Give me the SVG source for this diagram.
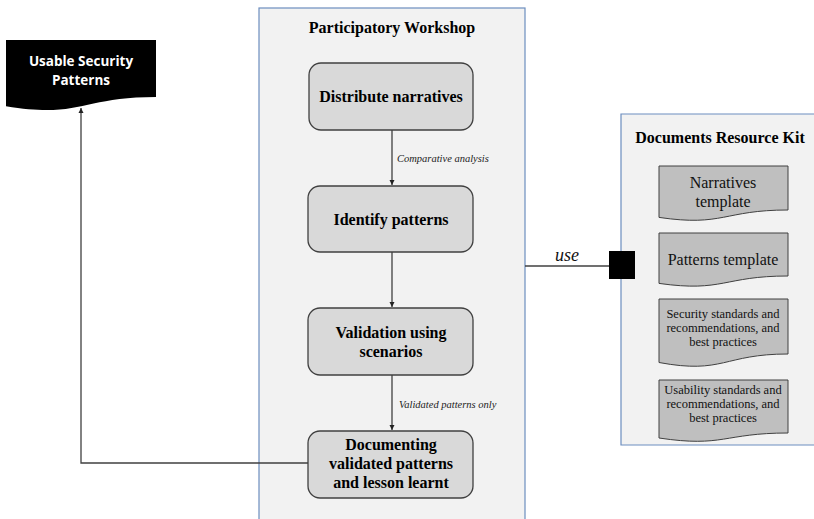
<svg xmlns="http://www.w3.org/2000/svg" width="814" height="519" viewBox="0 0 814 519">
<defs>
<style>
.container{fill:#f2f2f2;stroke:#6c8ebf;stroke-width:1.2}
.node{fill:#d9d9d9;stroke:#404040;stroke-width:1.3}
.doc{fill:#bfbfbf;stroke:#404040;stroke-width:1}
.title{font-family:"Liberation Serif",serif;font-weight:bold;font-size:16px;fill:#000;text-anchor:middle}
.ntext{font-family:"Liberation Serif",serif;font-weight:bold;font-size:16px;fill:#000;text-anchor:middle}
.dtext{font-family:"Liberation Serif",serif;font-size:16px;fill:#111;text-anchor:middle}
.dsmall{font-family:"Liberation Serif",serif;font-size:12.5px;fill:#111;text-anchor:middle}
.elabel{font-family:"Liberation Serif",serif;font-style:italic;font-size:10.5px;fill:#222}
.conn{stroke:#404040;stroke-width:1.3;fill:none}
</style>
<marker id="arr" markerWidth="6" markerHeight="6" refX="5" refY="3" orient="auto" markerUnits="userSpaceOnUse">
<path d="M0,0.5 L5,3 L0,5.5 Z" fill="#222"/>
</marker>
</defs>
<rect width="814" height="519" fill="#ffffff"/>

<g id="workshop">
<rect class="container" x="259" y="8" width="266" height="520"/>
<text class="title" x="392" y="33">Participatory Workshop</text>
</g>

<g id="kit">
<path class="container" d="M815,114 H621 V445 H815"/>
<text class="title" x="720" y="143">Documents Resource Kit</text>
</g>

<g id="connectors">
<line class="conn" x1="392" y1="130" x2="392" y2="185" marker-end="url(#arr)"/>
<line class="conn" x1="392" y1="252" x2="392" y2="307" marker-end="url(#arr)"/>
<line class="conn" x1="392" y1="375" x2="392" y2="430" marker-end="url(#arr)"/>
<polyline class="conn" points="308,463 81,463 81,108" marker-end="url(#arr)"/>
<line class="conn" x1="525" y1="266" x2="610" y2="266"/>
<text class="elabel" x="397" y="162">Comparative analysis</text>
<text class="elabel" x="399" y="408">Validated patterns only</text>
<text x="567" y="261" font-family="Liberation Serif, serif" font-style="italic" font-size="18" fill="#111" text-anchor="middle">use</text>
<rect x="609" y="251" width="26" height="28" fill="#000"/>
</g>

<g id="usable-security-patterns">
<path d="M6,40 H156 V97 C81,97 81,118.6 6,106.3 Z" fill="#000"/>
<text x="81" y="66" font-family="'Open Sans', 'Liberation Sans', sans-serif" font-weight="bold" font-size="13.5" fill="#fff" text-anchor="middle">Usable Security</text>
<text x="81" y="85" font-family="'Open Sans', 'Liberation Sans', sans-serif" font-weight="bold" font-size="13.5" fill="#fff" text-anchor="middle">Patterns</text>
</g>

<g id="distribute-narratives">
<rect class="node" x="309" y="63" width="164" height="67" rx="12"/>
<text class="ntext" x="391" y="102">Distribute narratives</text>
</g>

<g id="identify-patterns">
<rect class="node" x="308" y="186" width="165" height="66" rx="12"/>
<text class="ntext" x="391" y="225">Identify patterns</text>
</g>

<g id="validation-using-scenarios">
<rect class="node" x="308" y="308" width="165" height="67" rx="12"/>
<text class="ntext" x="391" y="338">Validation using</text>
<text class="ntext" x="391" y="357">scenarios</text>
</g>

<g id="documenting">
<rect class="node" x="308" y="431" width="165" height="67" rx="12"/>
<text class="ntext" x="391" y="450">Documenting</text>
<text class="ntext" x="391" y="469">validated patterns</text>
<text class="ntext" x="391" y="488">and lesson learnt</text>
</g>

<g id="narratives-template">
<path class="doc" d="M659,166 H788 V210 C723.5,210 723.5,226.9 659,217.4 Z"/>
<text class="dtext" x="723" y="188">Narratives</text>
<text class="dtext" x="723" y="207">template</text>
</g>

<g id="patterns-template">
<path class="doc" d="M659,233 H788 V276 C723.5,276 723.5,292.5 659,283.4 Z"/>
<text class="dtext" x="723" y="265">Patterns template</text>
</g>

<g id="security-standards">
<path class="doc" d="M659,299 H788 V354 C723.5,354 723.5,374.5 659,362.5 Z"/>
<text class="dsmall" x="723" y="318">Security standards and</text>
<text class="dsmall" x="723" y="332">recommendations, and</text>
<text class="dsmall" x="723" y="346">best practices</text>
</g>

<g id="usability-standards">
<path class="doc" d="M659,380 H788 V433 C723.5,433 723.5,447.7 659,438 Z"/>
<text class="dsmall" x="723" y="394">Usability standards and</text>
<text class="dsmall" x="723" y="408">recommendations, and</text>
<text class="dsmall" x="723" y="422">best practices</text>
</g>
</svg>
